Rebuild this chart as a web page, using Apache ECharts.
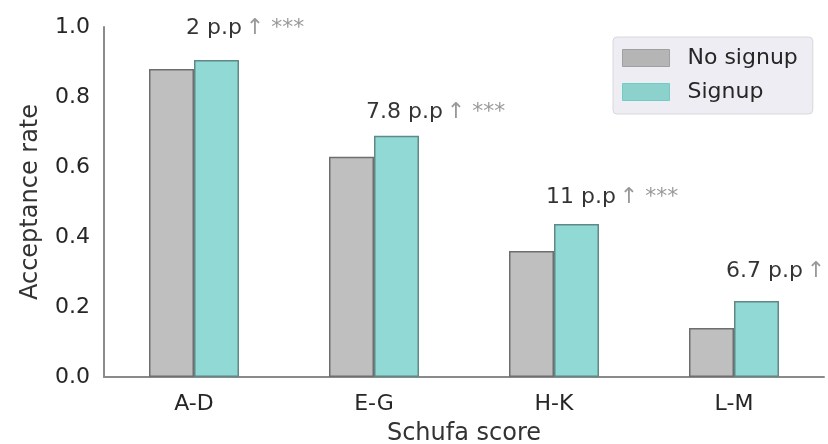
<!DOCTYPE html>
<html><head><meta charset="utf-8">
<script src="https://cdn.jsdelivr.net/npm/echarts@6/dist/echarts.min.js"></script>
<style>html,body{margin:0;padding:0;background:#fff}#c{width:828px;height:444px}</style>
</head><body><div id="c"></div>
<script>
var categories = ['A-D', 'E-G', 'H-K', 'L-M'];
var noSignup = [0.88, 0.629, 0.36, 0.14];
var signup = [0.906, 0.689, 0.437, 0.217];
var diffLabels = ['2 p.p', '7.8 p.p', '11 p.p', '6.7 p.p'];
var sigLabels = ['↑ ***', '↑ ***', '↑ ***', '↑'];
var labelY = [0.995, 0.757, 0.514, 0.303];
var yTicks = [0, 0.2, 0.4, 0.6, 0.8, 1.0];

var FONT = 'DejaVu Sans';
var chart = echarts.init(document.getElementById('c'), null, {renderer: 'canvas'});
var annData = categories.map(function (c, i) {
  return {value: [c, labelY[i]], name: diffLabels[i], sig: sigLabels[i]};
});
chart.setOption({
  animation: false,
  textStyle: {fontFamily: FONT},
  grid: {left: 104, right: 4, top: 27, bottom: 67, containLabel: false, outerBoundsMode: 'none'},
  legend: {
    left: 613, top: 37,
    orient: 'vertical',
    icon: 'rect',
    data: [
      {name: 'No signup', itemStyle: {color: '#b5b5b5', borderColor: '#a0a0a0', borderWidth: 1}},
      {name: 'Signup', itemStyle: {color: '#8cd1cb', borderColor: '#70cdc4', borderWidth: 1}}
    ],
    itemWidth: 47, itemHeight: 17, itemGap: 12,
    padding: [10, 15, 11, 9],
    backgroundColor: '#eeedf3',
    borderColor: '#d8d8dc', borderWidth: 1, borderRadius: 4,
    textStyle: {fontFamily: FONT, fontSize: 22, color: '#262626', padding: [0, 0, 0, 13]}
  },
  xAxis: {
    type: 'category', data: categories,
    name: 'Schufa score', nameLocation: 'middle', nameGap: 45,
    nameTextStyle: {fontFamily: FONT, fontSize: 24, color: '#333'},
    axisLine: {lineStyle: {color: '#8a8a8a', width: 2}},
    axisTick: {show: false},
    axisLabel: {fontFamily: FONT, fontSize: 22, color: '#262626', margin: 16}
  },
  yAxis: {
    type: 'value', min: 0, max: 1, interval: 0.2,
    name: 'Acceptance rate', nameLocation: 'middle', nameGap: 61,
    nameTextStyle: {fontFamily: FONT, fontSize: 24, color: '#333'},
    axisLine: {show: true, lineStyle: {color: '#8a8a8a', width: 2}},
    axisTick: {show: false},
    splitLine: {show: false},
    axisLabel: {fontFamily: FONT, fontSize: 22, color: '#262626', margin: 14,
      formatter: function (v) { return v.toFixed(1); }}
  },
  series: [
    {name: 'No signup', type: 'bar', data: noSignup, barGap: '0%', barCategoryGap: '50%',
      itemStyle: {color: '#bfbfbf', borderColor: '#6e6e6e', borderWidth: 1.5}},
    {name: 'Signup', type: 'bar', data: signup,
      itemStyle: {color: '#90d9d4', borderColor: '#5f8886', borderWidth: 1.5}},
    {name: 'ann', type: 'scatter', data: annData, symbolSize: 0, silent: true,
      label: {show: true, position: 'inside', align: 'left', verticalAlign: 'middle', offset: [-8, 0],
        color: '#000', textBorderWidth: 0,
        formatter: function (p) { return '{a|' + p.data.name + '} {b|' + p.data.sig + '}'; },
        rich: {a: {fontFamily: FONT, fontSize: 22, color: '#000', textBorderWidth: 0},
               b: {fontFamily: FONT, fontSize: 22, color: '#808080', textBorderWidth: 0}}}}
  ]
});
</script></body></html>
